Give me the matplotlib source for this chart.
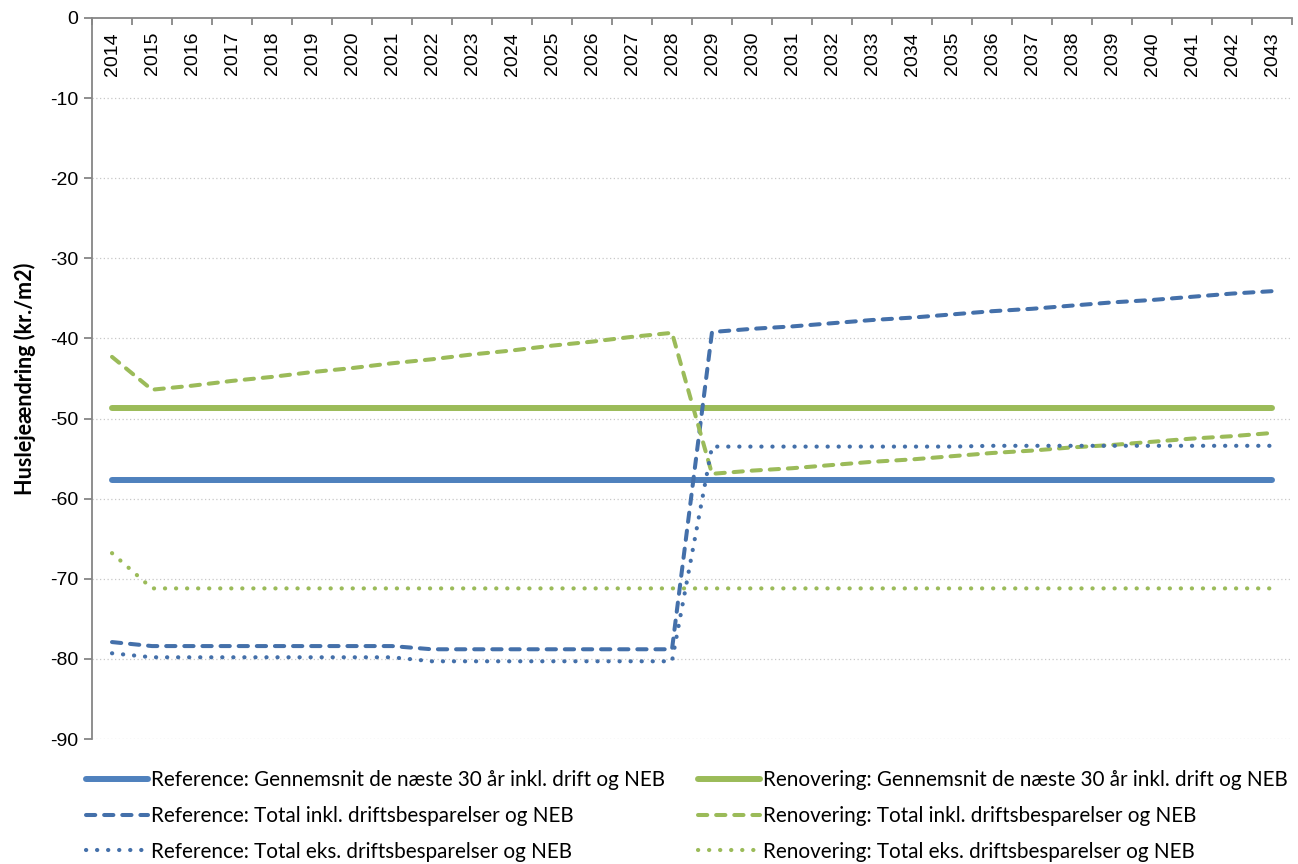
import matplotlib
matplotlib.use("Agg")
import matplotlib.pyplot as plt
from matplotlib.ticker import FixedLocator, NullFormatter

years = list(range(2014, 2044))

ref_avg = [-57.7] * 30
ren_avg = [-48.7] * 30

ref_total_inkl = [-77.9, -78.4, -78.4, -78.4, -78.4, -78.4, -78.4, -78.4,
                  -78.8, -78.8, -78.8, -78.8, -78.8, -78.8, -78.8,
                  -39.2, -38.8, -38.5, -38.1, -37.7, -37.4, -37.0, -36.6,
                  -36.3, -35.9, -35.5, -35.2, -34.8, -34.4, -34.1]
ref_total_eks = [-79.3, -79.8, -79.8, -79.8, -79.8, -79.8, -79.8, -79.8,
                 -80.3, -80.3, -80.3, -80.3, -80.3, -80.3, -80.3,
                 -53.5, -53.5, -53.5, -53.5, -53.5, -53.5, -53.5, -53.4,
                 -53.4, -53.4, -53.4, -53.4, -53.4, -53.4, -53.4]
ren_total_inkl = [-42.3, -46.4, -45.9, -45.3, -44.8, -44.2, -43.7, -43.1,
                  -42.6, -42.0, -41.5, -40.9, -40.4, -39.8, -39.3,
                  -56.9, -56.5, -56.2, -55.8, -55.4, -55.1, -54.7, -54.3,
                  -54.0, -53.6, -53.3, -52.9, -52.5, -52.2, -51.8]
ren_total_eks = [-66.8] + [-71.2] * 29

labels = [
    "Reference: Gennemsnit de næste 30 år inkl. drift og NEB",
    "Renovering: Gennemsnit de næste 30 år inkl. drift og NEB",
    "Reference: Total inkl. driftsbesparelser og NEB",
    "Renovering: Total inkl. driftsbesparelser og NEB",
    "Reference: Total eks. driftsbesparelser og NEB",
    "Renovering: Total eks. driftsbesparelser og NEB",
]
y_label = "Huslejeændring (kr./m2)"

BLUE = "#4F81BD"
BLUE_D = "#4470AA"
GREEN = "#9BBB59"
GRAY = "#868686"

fig = plt.figure(figsize=(12.98, 8.64), dpi=100)
ax = fig.add_axes([92 / 1298, 1 - 739 / 864, 1200 / 1298, 721 / 864])

x = list(range(len(years)))
dash = (0, (2.3, 2.2))
dot = (0, (0.05, 2.6))

h_ref_avg, = ax.plot(x, ref_avg, color=BLUE, lw=4.3, solid_capstyle="round", zorder=3)
h_ren_avg, = ax.plot(x, ren_avg, color=GREEN, lw=4.3, solid_capstyle="round", zorder=3)
h_ref_inkl, = ax.plot(x, ref_total_inkl, color=BLUE_D, lw=2.9, linestyle=dash,
                      dash_capstyle="round", zorder=4)
h_ren_inkl, = ax.plot(x, ren_total_inkl, color=GREEN, lw=2.9, linestyle=dash,
                      dash_capstyle="round", zorder=4)
h_ref_eks, = ax.plot(x, ref_total_eks, color=BLUE_D, lw=3.0, linestyle=dot,
                     dash_capstyle="round", zorder=4)
h_ren_eks, = ax.plot(x, ren_total_eks, color=GREEN, lw=3.0, linestyle=dot,
                     dash_capstyle="round", zorder=4)

ax.set_xlim(-0.5, len(years) - 0.5)
ax.set_ylim(-90, 0)

# spines
for s in ["top", "right"]:
    ax.spines[s].set_visible(False)
ax.spines["bottom"].set_position(("data", 0))
ax.spines["bottom"].set_color(GRAY)
ax.spines["left"].set_color(GRAY)
ax.spines["bottom"].set_linewidth(1.3)
ax.spines["left"].set_linewidth(1.3)
ax.spines["bottom"].set_zorder(5)

# x ticks: boundaries major (marks), centres minor (labels)
ax.xaxis.set_major_locator(FixedLocator([i - 0.5 for i in range(len(years) + 1)]))
ax.xaxis.set_major_formatter(NullFormatter())
ax.xaxis.set_minor_locator(FixedLocator(x))
ax.set_xticklabels([str(y) for y in years], minor=True, rotation=90,
                   fontsize=14, family="Liberation Sans")
ax.tick_params(axis="x", which="major", direction="out", length=5, color=GRAY, width=1.3)
ax.tick_params(axis="x", which="minor", length=0, pad=10)

ax.set_yticks(range(-90, 1, 10))
ax.set_yticklabels([str(v) for v in range(-90, 1, 10)], fontsize=14, family="Liberation Sans")
ax.tick_params(axis="y", direction="out", length=6, color=GRAY, width=1.3, pad=4)

for v in range(-90, 0, 10):
    ax.axhline(v, color="#C8C8C8", lw=0.9, linestyle=(0, (1, 2)), zorder=1)

fig.text(25 / 1298, 1 - 379 / 864, y_label, rotation=90, ha="center", va="center",
         fontsize=15.5, fontweight="bold", family="Lato")

handles = [h_ref_avg, h_ren_avg, h_ref_inkl, h_ren_inkl, h_ref_eks, h_ren_eks]
order = [0, 2, 4, 1, 3, 5]
leg = fig.legend([handles[i] for i in order], [labels[i] for i in order],
                 ncol=2, loc="center left", bbox_to_anchor=(86 / 1298, 1 - 816 / 864),
                 frameon=False, prop={"family": "Lato", "size": 14.9},
                 handlelength=3.0, handletextpad=0.15, columnspacing=1.6,
                 labelspacing=0.75, borderaxespad=0, borderpad=0)

fig.savefig("out.png", dpi=100)
